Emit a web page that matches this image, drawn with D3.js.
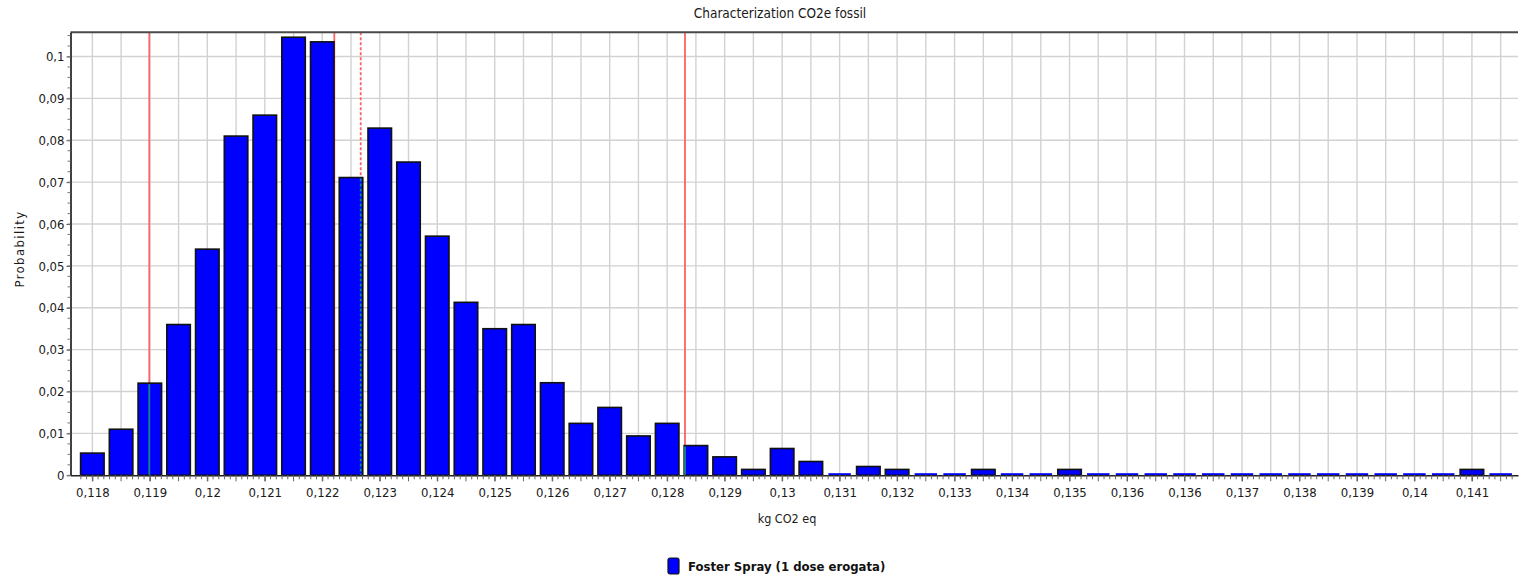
<!DOCTYPE html>
<html>
<head>
<meta charset="utf-8">
<script src="https://cdn.jsdelivr.net/npm/d3@7"></script>
<style>
  html, body { margin: 0; padding: 0; background: #ffffff; }
  svg { display: block; }
  text { font-family: "DejaVu Sans Condensed", "DejaVu Sans", sans-serif; }
</style>
</head>
<body>
<svg id="chart" width="1520" height="577"></svg>
<script>
// ---------------- DATA ----------------
const title = "Characterization CO2e fossil";
const xTitle = "kg CO2 eq";
const yTitle = "Probability";
const seriesName = "Foster Spray (1 dose erogata)";

// bin centres (kg CO2 eq)
const binCenters = [
  0.117800, 0.118292, 0.118784, 0.119276, 0.119768, 0.120260, 0.120752, 0.121244, 0.121736, 0.122228,
  0.122720, 0.123212, 0.123704, 0.124196, 0.124688, 0.125180, 0.125672, 0.126164, 0.126656, 0.127148,
  0.127640, 0.128132, 0.128624, 0.129116, 0.129608, 0.130100, 0.130592, 0.131084, 0.131576, 0.132068,
  0.132560, 0.133052, 0.133544, 0.134036, 0.134528, 0.135020, 0.135512, 0.136004, 0.136496, 0.136988,
  0.137480, 0.137972, 0.138464, 0.138956, 0.139448, 0.139940, 0.140432, 0.140924, 0.141416, 0.141908
];

// probability per bin
const probabilities = [
  0.0053, 0.011, 0.022, 0.036, 0.054, 0.081, 0.086, 0.1046, 0.1035, 0.0711,
  0.0829, 0.0748, 0.0571, 0.0413, 0.035, 0.036, 0.0221, 0.0124, 0.0162, 0.0094,
  0.0124, 0.0071, 0.0044, 0.0014, 0.0064, 0.0033, 0, 0.0021, 0.0014, 0,
  0, 0.0014, 0, 0, 0.0014, 0, 0, 0, 0, 0,
  0, 0, 0, 0, 0, 0, 0, 0, 0.0014, 0
];

// x tick labels (shown on every second bin)
const xTickLabels = [
  "0,118", "0,119", "0,12", "0,121", "0,122", "0,123", "0,124", "0,125", "0,126", "0,127",
  "0,128", "0,129", "0,13", "0,131", "0,132", "0,133", "0,134", "0,135", "0,136", "0,136",
  "0,137", "0,138", "0,139", "0,14", "0,141"
];

// y ticks
const yTickValues = [0, 0.01, 0.02, 0.03, 0.04, 0.05, 0.06, 0.07, 0.08, 0.09, 0.1];
const yTickLabels = ["0", "0,01", "0,02", "0,03", "0,04", "0,05", "0,06", "0,07", "0,08", "0,09", "0,1"];

// reference lines (percentiles / median / mean)
const refValues = [0.118775, 0.121942, 0.122394, 0.127945];
const refDashed = [false, false, true, false];

// ---------------- LAYOUT ----------------
const svg = d3.select("#chart");
const pLeft = 70.5, pRight = 1518, pTop = 32.3, pBottom = 475.3;

const x = d3.scaleLinear().domain([0.117426, 0.142205]).range([pLeft, pRight]);
const y = d3.scaleLinear().domain([0, 0.10578]).range([pBottom, pTop]);

const binW = binCenters[1] - binCenters[0];
const barW = (x(binCenters[0] + binW) - x(binCenters[0])) * 0.818;

// grid
const grid = svg.append("g");
grid.selectAll("line.v").data(binCenters).enter().append("line")
  .attr("x1", d => x(d)).attr("x2", d => x(d))
  .attr("y1", pTop).attr("y2", pBottom)
  .attr("stroke", "#d2d2d2").attr("stroke-width", 1.4);
grid.selectAll("line.h").data(yTickValues.slice(1)).enter().append("line")
  .attr("x1", pLeft).attr("x2", pRight)
  .attr("y1", d => y(d)).attr("y2", d => y(d))
  .attr("stroke", "#d2d2d2").attr("stroke-width", 1.4);

// red reference lines
svg.append("g").selectAll("line").data(refValues).enter().append("line")
  .attr("x1", d => x(d)).attr("x2", d => x(d))
  .attr("y1", pTop).attr("y2", pBottom)
  .attr("stroke", "#ff6262").attr("stroke-width", 1.8)
  .attr("stroke-dasharray", (d, i) => refDashed[i] ? "3,2" : null);

// bars
const bins = binCenters.map((c, i) => ({ c, p: probabilities[i] }));
const barsG = svg.append("g");
barsG.selectAll("rect").data(bins.filter(d => d.p > 0)).enter().append("rect")
  .attr("x", d => x(d.c) - barW / 2)
  .attr("y", d => y(d.p))
  .attr("width", barW)
  .attr("height", d => y(0) - y(d.p))
  .attr("fill", "#0000ff")
  .attr("stroke", "#111")
  .attr("stroke-width", 1.6);
barsG.selectAll("line").data(bins.filter(d => d.p === 0)).enter().append("line")
  .attr("x1", d => x(d.c) - barW / 2 + 0.5)
  .attr("x2", d => x(d.c) + barW / 2 - 0.5)
  .attr("y1", y(0) - 1.2).attr("y2", y(0) - 1.2)
  .attr("stroke", "#0000ff").attr("stroke-width", 1.8);

// teal parts of reference lines where they cross a bar
const tealSegs = [];
refValues.forEach((v, i) => {
  const px = x(v);
  bins.forEach(b => {
    if (b.p > 0 && px > x(b.c) - barW / 2 && px < x(b.c) + barW / 2) {
      tealSegs.push({ v, p: b.p, dashed: refDashed[i] });
    }
  });
});
svg.append("g").selectAll("line").data(tealSegs).enter().append("line")
  .attr("x1", d => x(d.v)).attr("x2", d => x(d.v))
  .attr("y1", d => y(d.p) + 1).attr("y2", pBottom - 0.5)
  .attr("stroke", "#148a7c").attr("stroke-width", 1.8)
  .attr("stroke-dasharray", d => d.dashed ? "3,2" : null);

// top border
svg.append("line").attr("x1", pLeft).attr("x2", pRight).attr("y1", pTop).attr("y2", pTop)
  .attr("stroke", "#4a4a4a").attr("stroke-width", 2);

// x axis
const xAxis = d3.axisBottom(x)
  .tickValues(binCenters.filter((d, i) => i % 2 === 0))
  .tickFormat((d, i) => xTickLabels[i])
  .tickSize(6).tickSizeOuter(0);
const gx = svg.append("g").attr("transform", `translate(0,${pBottom})`).call(xAxis);
gx.select(".domain").attr("stroke", "#222").attr("stroke-width", 1.6);
gx.selectAll(".tick line").attr("stroke", "#555");
gx.selectAll(".tick text").attr("font-size", 13).attr("fill", "#1a1a1a").attr("dy", "0.95em")
  .attr("font-family", "'DejaVu Sans Condensed', sans-serif");

// x minor ticks (5 per bin)
const xMinor = [];
binCenters.forEach((c) => { for (let k = 0; k < 5; k++) xMinor.push(c + (k - 2) * binW / 5); });
svg.append("g").selectAll("line").data(xMinor).enter().append("line")
  .attr("x1", d => x(d)).attr("x2", d => x(d))
  .attr("y1", pBottom).attr("y2", (d, i) => pBottom + (i % 5 === 2 ? 6 : 4))
  .attr("stroke", "#666").attr("stroke-width", 1);

// y axis
const yAxis = d3.axisLeft(y)
  .tickValues(yTickValues)
  .tickFormat((d, i) => yTickLabels[i])
  .tickSize(4).tickSizeOuter(0);
const gy = svg.append("g").attr("transform", `translate(${pLeft},0)`).call(yAxis);
gy.select(".domain").attr("stroke", "#111").attr("stroke-width", 1.6);
gy.selectAll(".tick line").attr("stroke", "#555");
gy.selectAll(".tick text").attr("font-size", 13).attr("fill", "#1a1a1a").attr("x", -6)
  .attr("font-family", "'DejaVu Sans Condensed', sans-serif");

// y minor ticks every 0.0025
const yMinor = d3.range(0, 0.1051, 0.0025);
svg.append("g").selectAll("line").data(yMinor).enter().append("line")
  .attr("x1", pLeft - 3).attr("x2", pLeft)
  .attr("y1", d => y(d)).attr("y2", d => y(d))
  .attr("stroke", "#777").attr("stroke-width", 1);

// titles
svg.append("text").attr("x", 780).attr("y", 18).attr("text-anchor", "middle")
  .attr("font-size", 13.5).attr("fill", "#1a1a1a").text(title);
svg.append("text").attr("x", 787).attr("y", 523).attr("text-anchor", "middle")
  .attr("font-size", 12.5).attr("fill", "#1a1a1a").text(xTitle);
svg.append("text").attr("transform", "translate(24,249) rotate(-90)").attr("text-anchor", "middle")
  .attr("font-size", 13).attr("letter-spacing", 1.4).attr("fill", "#1a1a1a").text(yTitle);

// legend
const lg = svg.append("g").attr("transform", "translate(668,558)");
lg.append("rect").attr("x", 0).attr("y", 0).attr("width", 11).attr("height", 16).attr("rx", 2)
  .attr("fill", "#0000ff").attr("stroke", "#111").attr("stroke-width", 1.2);
lg.append("text").attr("x", 20).attr("y", 13).attr("font-size", 13).attr("font-weight", "bold")
  .attr("fill", "#111").text(seriesName);
</script>
</body>
</html>
